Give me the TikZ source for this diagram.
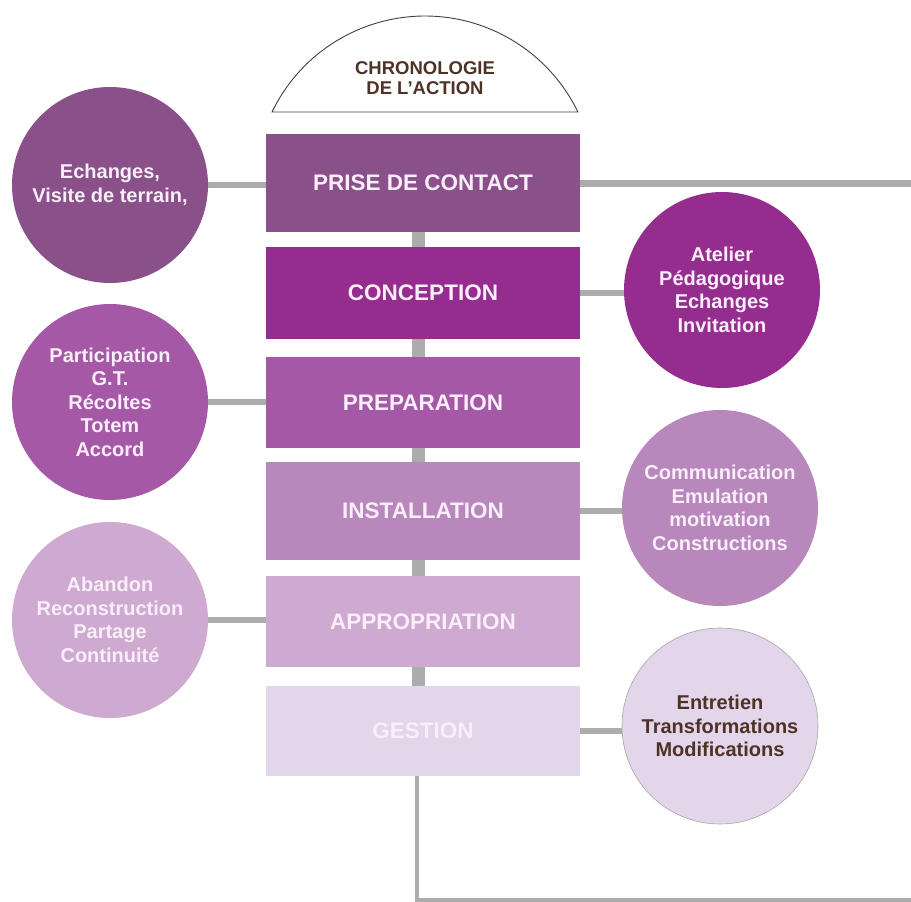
\documentclass[tikz,border=0pt]{standalone}
\usepackage{fontspec}
\setmainfont{Liberation Sans}
\usepackage{xcolor}
\usetikzlibrary{positioning,backgrounds}
\definecolor{cPrise}{RGB}{138,80,138}
\definecolor{cConc}{RGB}{148,45,142}
\definecolor{cPrep}{RGB}{165,88,165}
\definecolor{cInst}{RGB}{184,135,188}
\definecolor{cAppr}{RGB}{206,170,208}
\definecolor{cGest}{RGB}{227,213,234}
\definecolor{lightTxt}{RGB}{250,238,250}
\definecolor{brownTxt}{RGB}{78,50,38}
\definecolor{linkGray}{RGB}{172,172,172}
\tikzset{
  block/.style     = {rectangle, minimum width=314pt, inner sep=0pt, text=lightTxt,
                      font=\fontsize{22.5}{27}\selectfont\bfseries},
  bubble/.style    = {circle, minimum size=196pt, inner sep=0pt, align=center,
                      text=lightTxt, font=\fontsize{20}{23.5}\selectfont\bfseries},
  link/.style      = {line width=6pt, draw=linkGray},
  spine/.style     = {line width=13pt, draw=linkGray},
  dome/.style      = {draw=black!75, line width=0.9pt, fill=white},
  domelabel/.style = {align=center, text=brownTxt,
                      font=\fontsize{18.5}{20.5}\selectfont\bfseries},
}

\begin{document}
\begin{tikzpicture}[x=1pt,y=-1pt]
\useasboundingbox (0,0) rectangle (911,902);
% title dome
\draw[dome] (272,112) arc[start angle=-154.2, end angle=-25.8, radius=169.9] -- cycle;
\node[domelabel] (titre) at (425,78) {CHRONOLOGIE\\DE L’ACTION};
% steps
\node[block,fill=cPrise,minimum height=98pt] (prise) at (423,183)   {PRISE DE CONTACT};
\node[block,fill=cConc,minimum height=92pt]  (conc)  at (423,293)   {CONCEPTION};
\node[block,fill=cPrep,minimum height=91pt]  (prep)  at (423,402.5) {PREPARATION};
\node[block,fill=cInst,minimum height=98pt]  (inst)  at (423,511)   {INSTALLATION};
\node[block,fill=cAppr,minimum height=91pt]  (appr)  at (423,621.5) {APPROPRIATION};
\node[block,fill=cGest,minimum height=90pt]  (gest)  at (423,731)   {GESTION};
% side bubbles
\node[bubble,fill=cPrise] (echanges)  at (110,185) {Echanges,\\Visite de terrain,};
\node[bubble,fill=cConc]  (atelier)   at (722,290) {Atelier\\Pédagogique\\Echanges\\Invitation};
\node[bubble,fill=cPrep]  (particip)  at (110,402) {Participation\\G.T.\\Récoltes\\Totem\\Accord};
\node[bubble,fill=cInst]  (commu)     at (720,508) {Communication\\Emulation\\motivation\\Constructions};
\node[bubble,fill=cAppr]  (abandon)   at (110,620) {Abandon\\Reconstruction\\Partage\\Continuité};
\node[bubble,fill=cGest,draw=black!35,line width=0.6pt,text=brownTxt]
      (entretien) at (720,726) {Entretien\\Transformations\\Modifications};
\coordinate (endTop) at (911,183);
\coordinate (endBot) at (911,900);
\begin{pgfonlayer}{background}
\draw[spine] ([xshift=-4.5pt]prise.center) -- ([xshift=-4.5pt]gest.center);
\draw[link] (echanges.east) -- (echanges.east -| prise.west);
\draw[link,line width=7pt] (prise.east) -- (endTop);
\draw[link] (conc.east) -- (conc.east -| atelier.west);
\draw[link] (particip.east) -- (particip.east -| prep.west);
\draw[link] (inst.east) -- (inst.east -| commu.west);
\draw[link] (abandon.east) -- (abandon.east -| appr.west);
\draw[link] (gest.east) -- (gest.east -| entretien.west);
\draw[link,line width=4.5pt] ([xshift=-6pt]gest.south) |- (endBot);
\end{pgfonlayer}
\end{tikzpicture}
\end{document}
